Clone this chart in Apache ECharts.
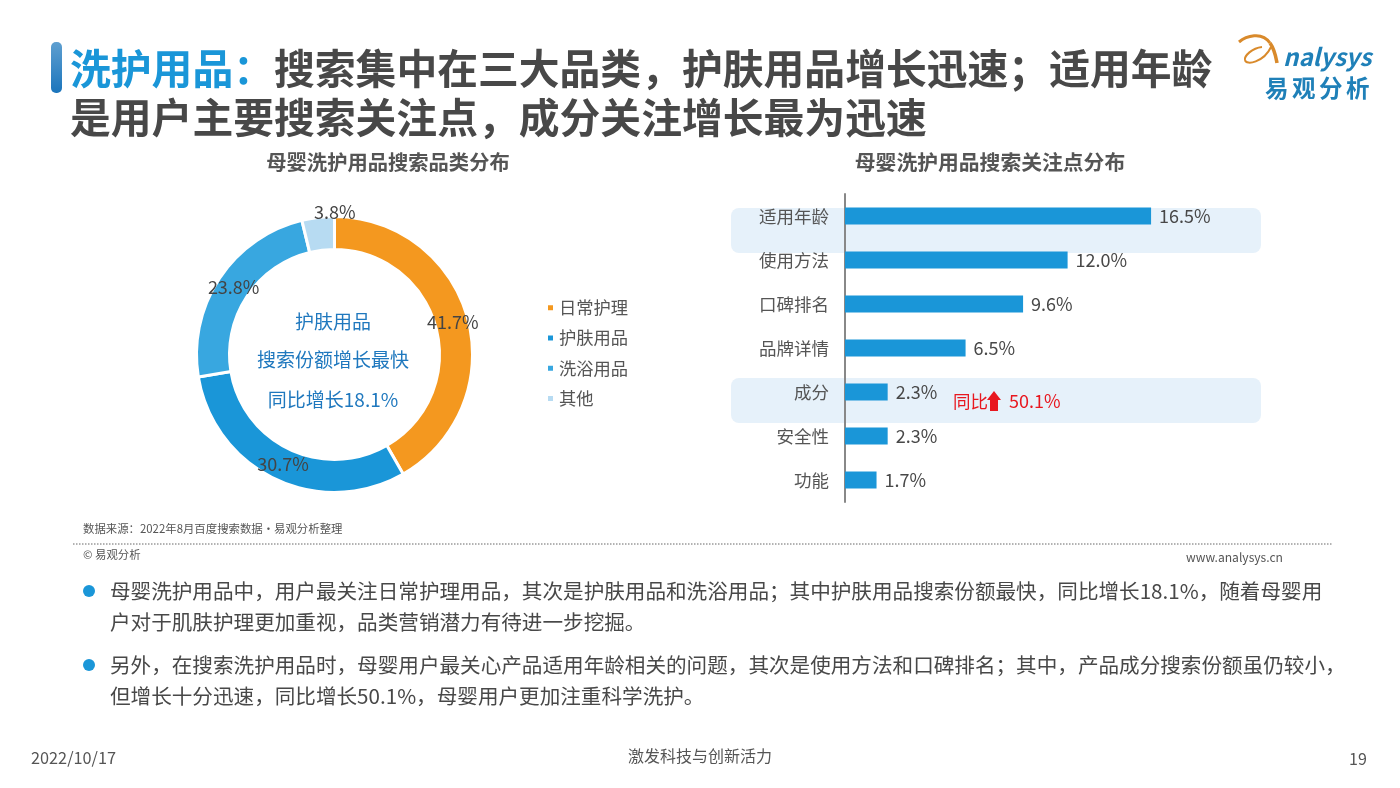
<!DOCTYPE html>
<html>
<head>
<meta charset="utf-8">
<title>洗护用品</title>
<script src="https://cdn.jsdelivr.net/npm/echarts@6/dist/echarts.min.js"></script>
<style>
  html, body { margin: 0; padding: 0; background: #fff; }
  #main { width: 1400px; height: 788px; }
</style>
</head>
<body>
<div id="main"></div>
<script>
const FONT = '"Noto Sans CJK SC", "Noto Sans", sans-serif';

const pieNames = ["日常护理", "护肤用品", "洗浴用品", "其他"];
const pieValues = [41.7, 30.7, 23.8, 3.8];
const pieColors = ["#F4981F", "#1A96D8", "#38A7E0", "#B7DBF2"];
// the labels were nudged by hand in the original
const pieLabelOffsets = [[-2, 0], [2, -3], [3, 1], [15, -19]];

const barNames = ["适用年龄", "使用方法", "口碑排名", "品牌详情", "成分", "安全性", "功能"];
const barValues = [16.5, 12.0, 9.6, 6.5, 2.3, 2.3, 1.7];

const titleHead = "洗护用品：";
const titleLine1 = "搜索集中在三大品类，护肤用品增长迅速；适用年龄";
const titleLine2 = "是用户主要搜索关注点，成分关注增长最为迅速";
const pieTitle = "母婴洗护用品搜索品类分布";
const barTitle = "母婴洗护用品搜索关注点分布";
const centerLines = ["护肤用品", "搜索份额增长最快", "同比增长18.1%"];
const logoChars = ["易", "观", "分", "析"];
const bullet1 = [
    "母婴洗护用品中，用户最关注日常护理用品，其次是护肤用品和洗浴用品；其中护肤用品搜索份额最快，同比增长18.1%，随着母婴用",
    "户对于肌肤护理更加重视，品类营销潜力有待进一步挖掘。",
];
const bullet2 = [
    "另外，在搜索洗护用品时，母婴用户最关心产品适用年龄相关的问题，其次是使用方法和口碑排名；其中，产品成分搜索份额虽仍较小，",
    "但增长十分迅速，同比增长50.1%，母婴用户更加注重科学洗护。",
];

function text(x, y, str, size, color, extra) {
    return {
        type: "text",
        x: x,
        y: y,
        z: 10,
        silent: true,
        style: Object.assign({
            text: str,
            font: size + "px " + FONT,
            fill: color,
            textVerticalAlign: "middle",
        }, extra || {}),
    };
}

function band(y) {
    return {
        type: "rect",
        z: -1,
        silent: true,
        shape: { x: 731, y: y, width: 530, height: 45, r: 8 },
        style: { fill: "#E6F1FA" },
    };
}

function swoosh(x1, y1, cpx1, cpy1, cpx2, cpy2, x2, y2, width) {
    return {
        type: "bezierCurve",
        silent: true,
        shape: { x1: x1, y1: y1, cpx1: cpx1, cpy1: cpy1, cpx2: cpx2, cpy2: cpy2, x2: x2, y2: y2 },
        style: { fill: "none", stroke: "#D98A2B", lineWidth: width },
    };
}

const chart = echarts.init(document.getElementById("main"));

const graphics = [
    band(208),
    band(378),
    // title accent
    {
        type: "rect",
        silent: true,
        shape: { x: 51, y: 42, width: 11, height: 51, r: 5 },
        style: {
            fill: new echarts.graphic.LinearGradient(0, 0, 0, 1, [
                { offset: 0, color: "#5E9FD0" },
                { offset: 1, color: "#1B75BC" },
            ]),
        },
    },
    text(70, 68, titleHead, 40.8, "#1A96D8", { font: "bold 40.8px " + FONT }),
    text(274, 68, titleLine1, 40.8, "#484848", { font: "bold 40.8px " + FONT }),
    text(70, 117, titleLine2, 40.8, "#484848", { font: "bold 40.8px " + FONT }),
    text(388, 162, pieTitle, 20.3, "#555", { font: "bold 20.3px " + FONT, textAlign: "center" }),
    text(990, 162, barTitle, 20.8, "#555", { font: "bold 20.8px " + FONT, textAlign: "center" }),
    text(333, 322, centerLines[0], 19, "#1F78BE", { textAlign: "center" }),
    text(333, 360, centerLines[1], 19, "#1F78BE", { textAlign: "center" }),
    text(333, 400, centerLines[2], 19, "#1F78BE", { textAlign: "center" }),
    // year on year callout
    text(953, 401, "同比", 17.5, "#E8171F"),
    {
        type: "polygon",
        z: 10,
        silent: true,
        shape: { points: [[994, 391], [1001, 400], [998, 400], [998, 411], [990, 411], [990, 400], [987, 400]] },
        style: { fill: "#E8171F" },
    },
    text(1009, 401, "50.1%", 18, "#E8171F"),
    // source block
    text(83, 529, "数据来源：2022年8月百度搜索数据·易观分析整理", 11.4, "#555"),
    {
        type: "line",
        silent: true,
        shape: { x1: 73, y1: 544, x2: 1332, y2: 544 },
        style: { stroke: "#666", lineWidth: 1, lineDash: [1.5, 1.5] },
    },
    text(83, 555, "© 易观分析", 11.4, "#555"),
    text(1283, 557, "www.analysys.cn", 12.1, "#555", { textAlign: "right" }),
    // bullets
    { type: "circle", silent: true, shape: { cx: 89, cy: 591, r: 6 }, style: { fill: "#1A96D8" } },
    { type: "circle", silent: true, shape: { cx: 89, cy: 665, r: 6 }, style: { fill: "#1A96D8" } },
    text(110, 591, bullet1[0], 20.6, "#484848"),
    text(110, 622, bullet1[1], 20.6, "#484848"),
    text(110, 665, bullet2[0], 20.6, "#484848"),
    text(110, 696, bullet2[1], 20.6, "#484848"),
    // page footer
    text(31, 758, "2022/10/17", 16.3, "#555"),
    text(700, 756, "激发科技与创新活力", 16, "#555", { textAlign: "center" }),
    text(1358, 759, "19", 16, "#555", { textAlign: "center" }),
    // logo
    swoosh(1239, 42, 1246, 36, 1262, 31, 1270, 43, 3),
    swoosh(1270, 43, 1275, 50, 1276, 58, 1277, 63, 3.5),
    swoosh(1262, 47, 1252, 48, 1244, 56, 1245, 60, 2),
    swoosh(1245, 60, 1246, 66, 1264, 62, 1271, 47, 2),
    text(1283, 57, "nalysys", 24, "#1F80B8", { font: "italic bold 24px " + FONT }),
].concat(logoChars.map(function (ch, i) {
    return text(1265 + i * 27, 88, ch, 23.5, "#1F80B8", { font: "bold 23.5px " + FONT });
}));

const option = {
    animation: false,
    backgroundColor: "#fff",
    textStyle: { fontFamily: FONT },
    legend: {
        orient: "vertical",
        left: 541,
        top: 294,
        itemWidth: 7,
        itemHeight: 7,
        itemGap: 13,
        icon: "rect",
        data: pieNames,
        textStyle: { fontSize: 17.3, color: "#555", fontFamily: FONT },
    },
    grid: {
        left: 845,
        top: 194,
        width: 371,
        height: 308,
    },
    xAxis: {
        type: "value",
        min: 0,
        max: 20,
        show: false,
    },
    yAxis: {
        type: "category",
        inverse: true,
        data: barNames,
        axisLine: { lineStyle: { color: "#888", width: 2 } },
        axisTick: { show: false },
        axisLabel: {
            fontSize: 17.5,
            color: "#555",
            margin: 16,
            fontFamily: FONT,
            padding: [0, 0, 2, 0],
        },
    },
    series: [
        {
            type: "pie",
            name: "品类",
            center: [334.5, 354.5],
            radius: [105, 138],
            startAngle: 90,
            clockwise: true,
            z: 3,
            itemStyle: { borderColor: "#fff", borderWidth: 3 },
            label: {
                position: "inside",
                fontSize: 18,
                color: "#444",
                fontFamily: FONT,
                formatter: function (p) { return p.value.toFixed(1) + "%"; },
            },
            labelLine: { show: false },
            emphasis: { disabled: true },
            data: pieNames.map(function (name, i) {
                return {
                    name: name,
                    value: pieValues[i],
                    itemStyle: { color: pieColors[i] },
                    label: { offset: pieLabelOffsets[i] },
                };
            }),
        },
        {
            type: "bar",
            data: barValues,
            barWidth: 17,
            z: 3,
            itemStyle: { color: "#1A96D8" },
            label: {
                show: true,
                position: "right",
                distance: 8,
                fontSize: 18,
                color: "#484848",
                fontFamily: FONT,
                formatter: function (p) { return p.value.toFixed(1) + "%"; },
            },
        },
    ],
    graphic: { elements: graphics },
};

chart.setOption(option);
</script>
</body>
</html>
